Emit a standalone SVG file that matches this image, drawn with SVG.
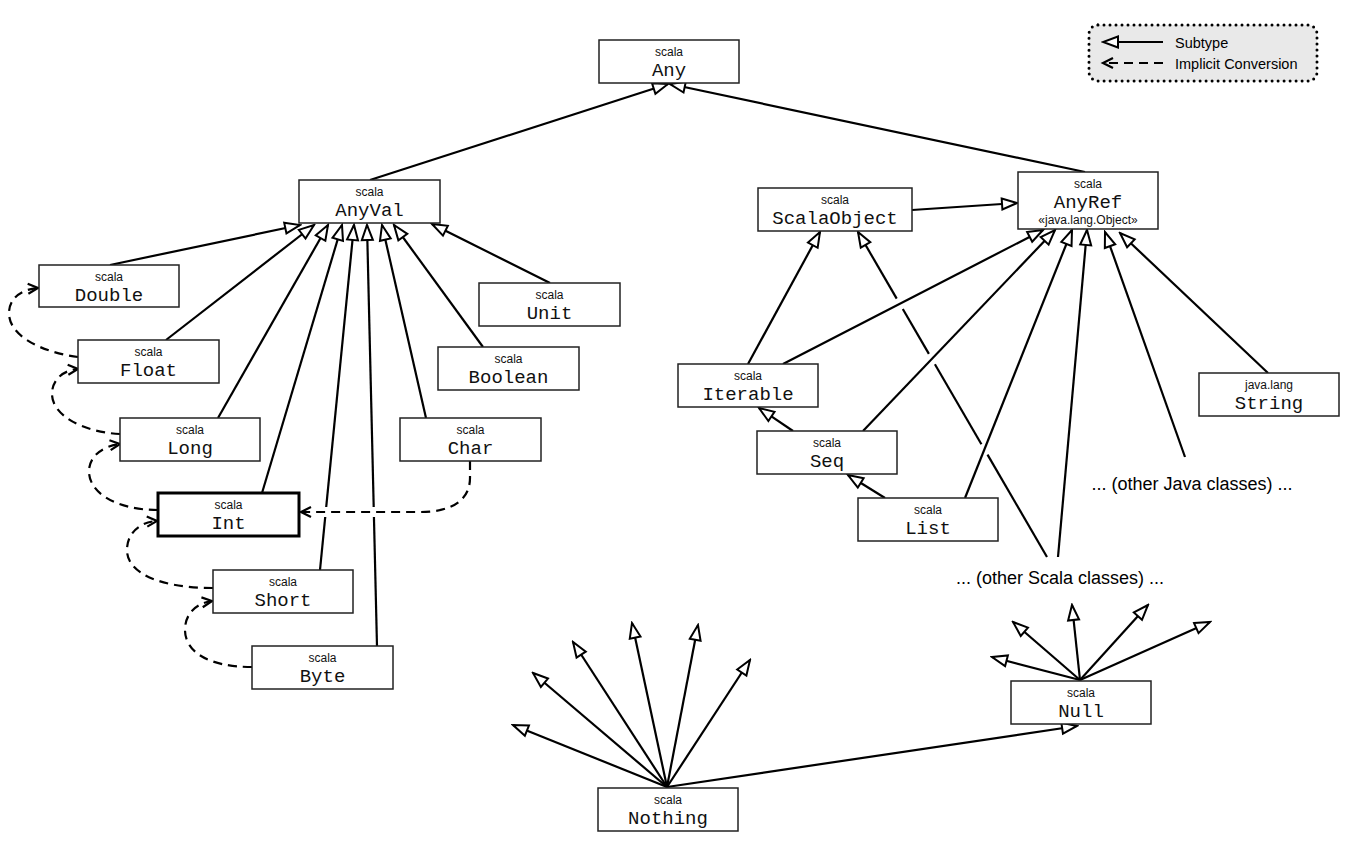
<svg xmlns="http://www.w3.org/2000/svg" width="1351" height="845" viewBox="0 0 1351 845">
<style>
.box{fill:#fff;stroke:#222;stroke-width:1.5}
.boxb{fill:#fff;stroke:#000;stroke-width:3}
.pkg{font-family:"Liberation Sans","Open Sans",sans-serif;font-size:12px;text-anchor:middle;fill:#111}
.name{font-family:"Liberation Mono","DejaVu Sans Mono",monospace;font-size:19px;text-anchor:middle;fill:#111}
.sub{stroke:#000;stroke-width:2.2;fill:none;marker-end:url(#tri)}
.seg{stroke:#000;stroke-width:2.2;fill:none}
.imp{stroke:#000;stroke-width:2.2;fill:none;stroke-dasharray:9 6;marker-end:url(#chev)}
.free{font-family:"Liberation Sans",sans-serif;font-size:18px;text-anchor:middle;fill:#000}
.leg{font-family:"Liberation Sans",sans-serif;font-size:14.5px;fill:#000}
</style>
<defs>
<marker id="tri" markerUnits="userSpaceOnUse" markerWidth="20" markerHeight="16" viewBox="0 0 20 16" refX="18" refY="8" orient="auto">
<path d="M3,2.5 L18,8 L3,13.5 Z" fill="#fff" stroke="#000" stroke-width="2"/>
</marker>
<marker id="chev" markerUnits="userSpaceOnUse" markerWidth="16" markerHeight="14" viewBox="0 0 16 14" refX="13" refY="7" orient="auto">
<path d="M3,2 L13,7 L3,12" fill="none" stroke="#000" stroke-width="2.2" stroke-dasharray="none"/>
</marker>
</defs>

<g id="legend">
<rect x="1089" y="25" width="228" height="56" rx="9" fill="#e9e9e9" stroke="#000" stroke-width="3" stroke-dasharray="0 6" stroke-linecap="round"/>
<line class="sub" x1="1163" y1="42" x2="1103" y2="42"/>
<line class="imp" x1="1163" y1="63" x2="1103" y2="63"/>
<text class="leg" x="1175" y="48">Subtype</text>
<text class="leg" x="1175" y="69">Implicit Conversion</text>
</g>

<g id="connectors">
<line class="sub" x1="370" y1="180" x2="668" y2="84"/>
<line class="sub" x1="1085" y1="172" x2="670" y2="84"/>
<line class="sub" x1="110" y1="265" x2="300" y2="225"/>
<line class="sub" x1="166" y1="340" x2="314" y2="225"/>
<line class="sub" x1="218" y1="418" x2="328" y2="225"/>
<line class="sub" x1="262" y1="493" x2="342" y2="225"/>
<line class="sub" x1="320" y1="570" x2="354" y2="225"/>
<line class="sub" x1="377" y1="646" x2="367" y2="225"/>
<line class="sub" x1="426" y1="418" x2="382" y2="225"/>
<line class="sub" x1="483" y1="347" x2="394" y2="225"/>
<line class="sub" x1="550" y1="283" x2="432" y2="224"/>
<line class="sub" x1="912" y1="210" x2="1017" y2="203"/>
<line class="sub" x1="748" y1="364" x2="820" y2="232"/>
<line class="seg" x1="1047" y1="557" x2="987.5" y2="454.6"/>
<line class="seg" x1="981.4" y1="444.2" x2="934.9" y2="364.3"/>
<line class="seg" x1="928.9" y1="353.9" x2="902.8" y2="309"/>
<line class="sub" x1="896.7" y1="298.6" x2="858" y2="232"/>
<line class="sub" x1="783" y1="364" x2="1043" y2="230"/>
<line class="sub" x1="793" y1="431" x2="759" y2="408"/>
<line class="sub" x1="863" y1="431" x2="1055" y2="230"/>
<line class="sub" x1="885" y1="498" x2="848" y2="475"/>
<line class="sub" x1="965" y1="498" x2="1072" y2="230"/>
<line class="sub" x1="1058" y1="557" x2="1087" y2="230"/>
<line class="sub" x1="1185" y1="457" x2="1105" y2="232"/>
<line class="sub" x1="1268" y1="373" x2="1120" y2="233"/>
<line class="sub" x1="667" y1="787" x2="513" y2="725"/>
<line class="sub" x1="667" y1="787" x2="533" y2="673"/>
<line class="sub" x1="667" y1="787" x2="573" y2="642"/>
<line class="sub" x1="667" y1="787" x2="632" y2="623"/>
<line class="sub" x1="667" y1="787" x2="698" y2="625"/>
<line class="sub" x1="667" y1="787" x2="750" y2="660"/>
<line class="sub" x1="667" y1="787" x2="1077" y2="726"/>
<line class="sub" x1="1080" y1="680" x2="992" y2="657"/>
<line class="sub" x1="1080" y1="680" x2="1013" y2="622"/>
<line class="sub" x1="1080" y1="680" x2="1072" y2="605"/>
<line class="sub" x1="1080" y1="680" x2="1148" y2="605"/>
<line class="sub" x1="1080" y1="680" x2="1210" y2="622"/>
<path class="imp" d="M78,357 C40,352 8,335 9,312 C10,296 24,289 38,288"/>
<path class="imp" d="M120,434 C82,432 52,415 52,394 C52,379 64,370 78,369"/>
<path class="imp" d="M158,510 C115,510 88,492 89,470 C90,455 104,446 120,444"/>
<path class="imp" d="M213,588 C162,588 127,574 127,550 C127,533 140,522 157,521"/>
<path class="imp" d="M252,667 C207,667 185,651 185,630 C185,613 197,603 212,601"/>
<line x1="316" y1="512" x2="386" y2="512" stroke="#fff" stroke-width="10"/>
<path class="imp" d="M470,461 L470,478 C470,500 452,512 420,512 L301,512"/>
</g>

<g id="Any"><rect class="box" x="599" y="40" width="140" height="43"/><text class="pkg" x="669" y="56">scala</text><text class="name" x="669" y="76">Any</text></g>
<g id="AnyVal"><rect class="box" x="299" y="180" width="141" height="43"/><text class="pkg" x="369.5" y="196">scala</text><text class="name" x="369.5" y="216">AnyVal</text></g>
<g id="Double"><rect class="box" x="39" y="265" width="140" height="42"/><text class="pkg" x="109" y="281">scala</text><text class="name" x="109" y="301">Double</text></g>
<g id="Float"><rect class="box" x="78" y="340" width="141" height="43"/><text class="pkg" x="148.5" y="356">scala</text><text class="name" x="148.5" y="376">Float</text></g>
<g id="Long"><rect class="box" x="120" y="418" width="140" height="43"/><text class="pkg" x="190" y="434">scala</text><text class="name" x="190" y="454">Long</text></g>
<g id="Int"><rect class="boxb" x="158" y="493" width="141" height="43"/><text class="pkg" x="228.5" y="509">scala</text><text class="name" x="228.5" y="529">Int</text></g>
<g id="Short"><rect class="box" x="213" y="570" width="140" height="43"/><text class="pkg" x="283" y="586">scala</text><text class="name" x="283" y="606">Short</text></g>
<g id="Byte"><rect class="box" x="252" y="646" width="141" height="43"/><text class="pkg" x="322.5" y="662">scala</text><text class="name" x="322.5" y="682">Byte</text></g>
<g id="Unit"><rect class="box" x="479" y="283" width="141" height="43"/><text class="pkg" x="549.5" y="299">scala</text><text class="name" x="549.5" y="319">Unit</text></g>
<g id="Boolean"><rect class="box" x="438" y="347" width="141" height="43"/><text class="pkg" x="508.5" y="363">scala</text><text class="name" x="508.5" y="383">Boolean</text></g>
<g id="Char"><rect class="box" x="400" y="418" width="141" height="43"/><text class="pkg" x="470.5" y="434">scala</text><text class="name" x="470.5" y="454">Char</text></g>
<g id="ScalaObject"><rect class="box" x="758" y="188" width="154" height="43"/><text class="pkg" x="835" y="204">scala</text><text class="name" x="835" y="224">ScalaObject</text></g>
<g id="AnyRef"><rect class="box" x="1018" y="172" width="140" height="57"/><text class="pkg" x="1088" y="188">scala</text><text class="name" x="1088" y="208">AnyRef</text><text class="pkg" x="1088" y="224">«java.lang.Object»</text></g>
<g id="Iterable"><rect class="box" x="678" y="364" width="140" height="43"/><text class="pkg" x="748" y="380">scala</text><text class="name" x="748" y="400">Iterable</text></g>
<g id="Seq"><rect class="box" x="757" y="431" width="140" height="43"/><text class="pkg" x="827" y="447">scala</text><text class="name" x="827" y="467">Seq</text></g>
<g id="List"><rect class="box" x="858" y="498" width="140" height="43"/><text class="pkg" x="928" y="514">scala</text><text class="name" x="928" y="534">List</text></g>
<g id="String"><rect class="box" x="1199" y="373" width="140" height="43"/><text class="pkg" x="1269" y="389">java.lang</text><text class="name" x="1269" y="409">String</text></g>
<g id="OtherJava"><text class="free" x="1192" y="490">... (other Java classes) ...</text></g>
<g id="OtherScala"><text class="free" x="1060" y="584">... (other Scala classes) ...</text></g>
<g id="Null"><rect class="box" x="1011" y="681" width="140" height="43"/><text class="pkg" x="1081" y="697">scala</text><text class="name" x="1081" y="717">Null</text></g>
<g id="Nothing"><rect class="box" x="598" y="788" width="140" height="43"/><text class="pkg" x="668" y="804">scala</text><text class="name" x="668" y="824">Nothing</text></g>
</svg>
